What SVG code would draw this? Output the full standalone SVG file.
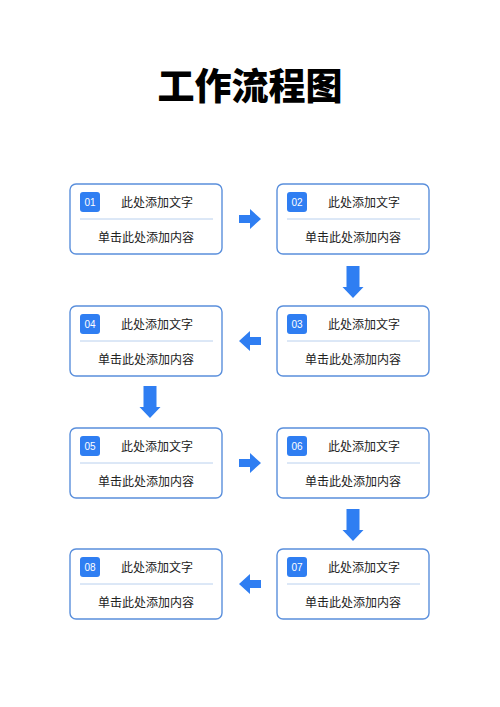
<svg xmlns="http://www.w3.org/2000/svg" width="500" height="707" viewBox="0 0 500 707">
<style>
.box{fill:#fff;stroke:#5a8fdc;stroke-width:1.4}
.badge{fill:#2f7ef2}
.num{fill:#fff;font-family:"Liberation Sans",Arial,sans-serif;font-size:10px;text-anchor:middle}
.t{fill:#222;font-family:"Noto Sans CJK SC",sans-serif;font-size:12px;text-anchor:middle}
.div{stroke:#b9d0ee;stroke-width:1}
.arr{fill:#2f7ef2}
.title{fill:#000;font-family:"Noto Sans CJK SC",sans-serif;font-size:37px;font-weight:900;text-anchor:middle}
</style>
<defs>
<g id="card">
<rect class="box" x="0" y="0" width="152" height="70" rx="6"/>
<rect class="badge" x="10" y="8" width="20" height="20" rx="3"/>
<line class="div" x1="10" y1="35" x2="143" y2="35"/>
<text class="t" x="87" y="22.5">此处添加文字</text>
<text class="t" x="76" y="57.5">单击此处添加内容</text>
</g>
<path id="ar" d="M-11,-4 H0 V-10 L11,0 L0,10 V4 H-11 Z"/>
<path id="ad" d="M-6.5,-16 H6.5 V5 H10.5 L0,16 L-10.5,5 H-6.5 Z"/>
</defs>
<text class="title" x="250" y="100">工作流程图</text>
<g id="node-01" transform="translate(70,184)"><use href="#card"/><text class="num" x="20" y="22">01</text></g>
<g id="node-02" transform="translate(277,184)"><use href="#card"/><text class="num" x="20" y="22">02</text></g>
<g id="node-03" transform="translate(277,306)"><use href="#card"/><text class="num" x="20" y="22">03</text></g>
<g id="node-04" transform="translate(70,306)"><use href="#card"/><text class="num" x="20" y="22">04</text></g>
<g id="node-05" transform="translate(70,428)"><use href="#card"/><text class="num" x="20" y="22">05</text></g>
<g id="node-06" transform="translate(277,428)"><use href="#card"/><text class="num" x="20" y="22">06</text></g>
<g id="node-07" transform="translate(277,549)"><use href="#card"/><text class="num" x="20" y="22">07</text></g>
<g id="node-08" transform="translate(70,549)"><use href="#card"/><text class="num" x="20" y="22">08</text></g>
<g id="connectors" class="arr">
<use href="#ar" transform="translate(250,219)"/>
<use href="#ad" transform="translate(353,282)"/>
<use href="#ar" transform="translate(250,341) rotate(180)"/>
<use href="#ad" transform="translate(150,402)"/>
<use href="#ar" transform="translate(250,463)"/>
<use href="#ad" transform="translate(353,525)"/>
<use href="#ar" transform="translate(250,584) rotate(180)"/>
</g>
</svg>
